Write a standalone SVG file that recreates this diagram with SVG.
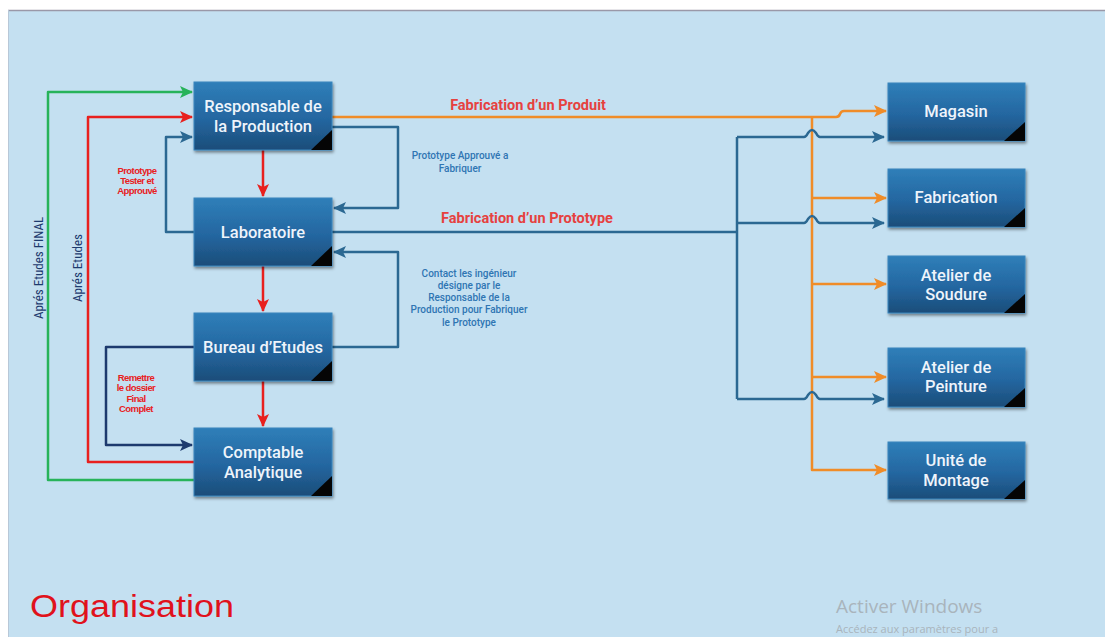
<svg xmlns="http://www.w3.org/2000/svg" width="1105" height="637" viewBox="0 0 1105 637">
<defs>
  <linearGradient id="bg" x1="0" y1="0" x2="0" y2="1">
    <stop offset="0" stop-color="#2f7fb9"/>
    <stop offset="0.55" stop-color="#2466a0"/>
    <stop offset="1" stop-color="#1b4d79"/>
  </linearGradient>
  <filter id="sh" x="-10%" y="-10%" width="125%" height="130%">
    <feDropShadow dx="1" dy="2" stdDeviation="1.5" flood-color="#000" flood-opacity="0.45"/>
  </filter>
  <marker id="aRed" markerWidth="14" markerHeight="12" refX="12" refY="6" orient="auto" markerUnits="userSpaceOnUse"><path d="M0,0 L13,6 L0,12 L3,6 Z" fill="#e8201e"/></marker>
  <marker id="aGreen" markerWidth="14" markerHeight="12" refX="12" refY="6" orient="auto" markerUnits="userSpaceOnUse"><path d="M0,0 L13,6 L0,12 L3,6 Z" fill="#27b35a"/></marker>
  <marker id="aBlue" markerWidth="14" markerHeight="12" refX="12" refY="6" orient="auto" markerUnits="userSpaceOnUse"><path d="M0,0 L13,6 L0,12 L3,6 Z" fill="#2b6892"/></marker>
  <marker id="aNavy" markerWidth="14" markerHeight="12" refX="12" refY="6" orient="auto" markerUnits="userSpaceOnUse"><path d="M0,0 L13,6 L0,12 L3,6 Z" fill="#1d3a6e"/></marker>
  <marker id="aOr" markerWidth="14" markerHeight="12" refX="12" refY="6" orient="auto" markerUnits="userSpaceOnUse"><path d="M0,0 L13,6 L0,12 L3,6 Z" fill="#f08c28"/></marker>
</defs>
<style>
  .box{fill:url(#bg);stroke:#3a86bd;stroke-width:1;filter:url(#sh)}
  .corner{fill:#050505}
  .bt{font-family:Roboto,"Liberation Sans",sans-serif;font-weight:500;font-size:16.5px;fill:#eef4fb;text-anchor:middle}
  .c{fill:none;stroke-width:2.5;stroke-linejoin:round}
  .red{stroke:#e8201e}
  .green{stroke:#27b35a}
  .blue{stroke:#2b6892}
  .navy{stroke:#1d3a6e}
  .or{stroke:#f08c28}
  .lblR{font-family:Roboto,"Liberation Sans",sans-serif;font-weight:700;font-size:14.5px;fill:#e6413f;text-anchor:middle}
  .small{font-family:Roboto,"Liberation Sans",sans-serif;font-weight:500;font-size:10px;fill:#2f75b3;text-anchor:middle}
  .tiny{font-family:"Liberation Sans",sans-serif;font-weight:700;font-size:9.5px;fill:#e8201e;text-anchor:middle;letter-spacing:-0.6px}
  .vert{font-family:Roboto,"Liberation Sans",sans-serif;font-stretch:condensed;font-size:13px;fill:#1d3a6e;text-anchor:middle}
</style>
<rect x="0" y="0" width="1105" height="637" fill="#ffffff"/>
<rect x="8" y="10" width="1097" height="627" fill="#c4e0f1"/>
<line x1="8" y1="10.5" x2="1105" y2="10.5" stroke="#9a98a8" stroke-width="1.5"/>
<line x1="8.5" y1="10" x2="8.5" y2="637" stroke="#b8c8d8" stroke-width="1"/>

<g id="connectors">
  <path class="c green" d="M194,480 H48 V92 H192" marker-end="url(#aGreen)"/>
  <path class="c red" d="M194,462 H88 V117 H192" marker-end="url(#aRed)"/>
  <path class="c blue" d="M194,232 H166 V137 H192" marker-end="url(#aBlue)"/>
  <path class="c navy" d="M194,347 H106 V445 H192" marker-end="url(#aNavy)"/>
  <path class="c red" d="M263,150 V196" marker-end="url(#aRed)"/>
  <path class="c red" d="M263,266 V311" marker-end="url(#aRed)"/>
  <path class="c red" d="M263,381 V426" marker-end="url(#aRed)"/>
  <path class="c blue" d="M332,127 H398 V208 H334" marker-end="url(#aBlue)"/>
  <path class="c blue" d="M332,347 H398 V252 H334" marker-end="url(#aBlue)"/>
  <path class="c or" d="M332,117 H836 Q839,117 840,114 Q841,111 844,111 H886" marker-end="url(#aOr)"/>
  <path class="c or" d="M812,117 V470 H886" marker-end="url(#aOr)"/>
  <path class="c or" d="M812,198 H886" marker-end="url(#aOr)"/>
  <path class="c or" d="M812,284 H886" marker-end="url(#aOr)"/>
  <path class="c or" d="M812,377 H886" marker-end="url(#aOr)"/>
  <path class="c blue" d="M332,232 H737"/>
  <path class="c blue" d="M737,137 V399"/>
  <path class="c blue" d="M737,137 H804 Q806,137 808,133 Q812,127 816,133 Q818,137 820,137 H884" marker-end="url(#aBlue)"/>
  <path class="c blue" d="M737,223 H804 Q806,223 808,219 Q812,213 816,219 Q818,223 820,223 H884" marker-end="url(#aBlue)"/>
  <path class="c blue" d="M737,399 H804 Q806,399 808,395 Q812,389 816,395 Q818,399 820,399 H884" marker-end="url(#aBlue)"/>
</g>

<g id="labels">
  <text class="lblR" x="528" y="110">Fabrication d’un Produit</text>
  <text class="lblR" x="527" y="223">Fabrication d’un Prototype</text>
  <text class="small" x="460" y="159">Prototype Approuvé a</text>
  <text class="small" x="460" y="172">Fabriquer</text>
  <text class="small" x="469" y="277">Contact les ingénieur</text>
  <text class="small" x="469" y="289">désigne par le</text>
  <text class="small" x="469" y="301">Responsable  de la</text>
  <text class="small" x="469" y="313">Production  pour Fabriquer</text>
  <text class="small" x="469" y="326">le Prototype</text>
  <text class="tiny" x="137" y="174">Prototype</text>
  <text class="tiny" x="137" y="184">Tester et</text>
  <text class="tiny" x="137" y="194">Approuvé</text>
  <text class="tiny" x="136" y="381">Remettre</text>
  <text class="tiny" x="136" y="391">le dossier</text>
  <text class="tiny" x="136" y="402">Final</text>
  <text class="tiny" x="136" y="412">Complet</text>
  <text class="vert" transform="translate(43,268) rotate(-90)">Aprés Etudes FINAL</text>
  <text class="vert" transform="translate(82,268) rotate(-90)">Aprés Etudes</text>
  <text x="30" y="617" font-family="'Liberation Sans',sans-serif" font-size="31" fill="#e0121c" textLength="204" lengthAdjust="spacingAndGlyphs">Organisation</text>
  <text x="836" y="613" font-family="'Open Sans','Liberation Sans',sans-serif" font-size="19" fill="#a9b4bc">Activer Windows</text>
  <text x="836" y="633" font-family="'Open Sans','Liberation Sans',sans-serif" font-size="11" fill="#a9b4bc">Accédez aux paramètres pour a</text>
</g>

<g id="responsable">
  <rect class="box" x="194" y="82" width="138" height="68"/>
  <path class="corner" d="M332,130 V150 H311 Z"/>
  <text class="bt" x="263" y="112">Responsable de</text>
  <text class="bt" x="263" y="132">la Production</text>
</g>
<g id="laboratoire">
  <rect class="box" x="194" y="198" width="138" height="68"/>
  <path class="corner" d="M332,246 V266 H311 Z"/>
  <text class="bt" x="263" y="238">Laboratoire</text>
</g>
<g id="bureau">
  <rect class="box" x="194" y="313" width="138" height="68"/>
  <path class="corner" d="M332,361 V381 H311 Z"/>
  <text class="bt" x="263" y="353">Bureau d’Etudes</text>
</g>
<g id="comptable">
  <rect class="box" x="194" y="428" width="138" height="68"/>
  <path class="corner" d="M332,476 V496 H311 Z"/>
  <text class="bt" x="263" y="458">Comptable</text>
  <text class="bt" x="263" y="478">Analytique</text>
</g>

<g id="magasin">
  <rect class="box" x="888" y="83" width="137" height="58"/>
  <path class="corner" d="M1025,122 V141 H1004 Z"/>
  <text class="bt" x="956" y="117">Magasin</text>
</g>
<g id="fabrication">
  <rect class="box" x="888" y="169" width="137" height="58"/>
  <path class="corner" d="M1025,208 V227 H1004 Z"/>
  <text class="bt" x="956" y="203">Fabrication</text>
</g>
<g id="soudure">
  <rect class="box" x="888" y="256" width="137" height="57"/>
  <path class="corner" d="M1025,294 V313 H1004 Z"/>
  <text class="bt" x="956" y="281">Atelier de</text>
  <text class="bt" x="956" y="300">Soudure</text>
</g>
<g id="peinture">
  <rect class="box" x="888" y="348" width="137" height="59"/>
  <path class="corner" d="M1025,388 V407 H1004 Z"/>
  <text class="bt" x="956" y="373">Atelier de</text>
  <text class="bt" x="956" y="392">Peinture</text>
</g>
<g id="montage">
  <rect class="box" x="888" y="442" width="137" height="57"/>
  <path class="corner" d="M1025,480 V499 H1004 Z"/>
  <text class="bt" x="956" y="466">Unité de</text>
  <text class="bt" x="956" y="486">Montage</text>
</g>
</svg>
